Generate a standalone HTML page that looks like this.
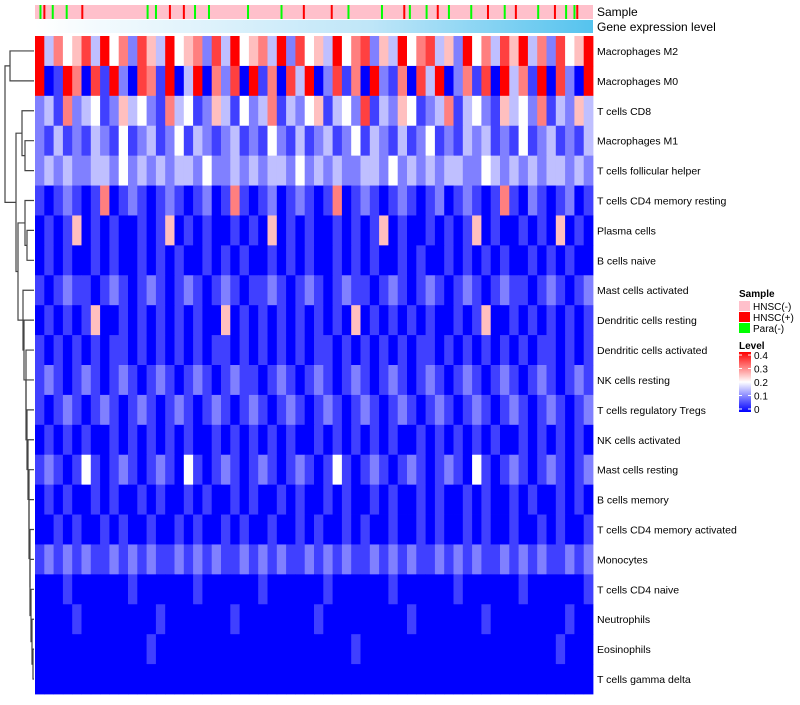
<!DOCTYPE html>
<html><head><meta charset="utf-8"><style>
body{margin:0;background:#fff;font-family:"Liberation Sans",sans-serif}
svg text{font-family:"Liberation Sans",sans-serif}
</style></head><body>
<svg id="c" width="800" height="700"></svg>
<script>
const rowNames=["Macrophages M2","Macrophages M0","T cells CD8","Macrophages M1","T cells follicular helper","T cells CD4 memory resting","Plasma cells","B cells naive","Mast cells activated","Dendritic cells resting","Dendritic cells activated","NK cells resting","T cells regulatory  Tregs","NK cells activated","Mast cells resting","B cells memory","T cells CD4 memory activated","Monocytes","T cells CD4 naive","Neutrophils","Eosinophils","T cells gamma delta"];
// digit d => value d*0.05 (0..0.4)
const rowValues=[
"836457384627538456273845638274538467253846735284637583627458",
"801860718207618038062708160738027160821607380261708361807208",
"231623412534216341253142361324513427132541236134215342613253",
"213121321412312413212312142131231241321312412132312141231213",
"232322332423232332422323233242323223324232323322432323233232",
"101210160121012101201610120121016012101210120121016102101201",
"010150101001015010100101050101001010150100101015010010105010",
"010100101001010100101010010101001010100101001010101001010100",
"101211012101210121012101121012101211012101210121012110121012",
"010101500101010101005010101010101050101010100101500101010101",
"101010101101010101011010101010110101010101101010101010110101",
"121012101210121012101211012101210121012101210121012101210121",
"101210121012101210121012101210121012101210121012101210121012",
"010101001010101010010101010100101010101001010101010010101010",
"121014101210121041012101210121014101210121012104101210121012",
"010100101001010010100101001010010100101001010010100101001010",
"001010010100100101001010010010100101001001010010100100101001",
"121212112121211212121121212112121211212121121212112121211212",
"000100000010000001000000100000010000001000000100000010000001",
"000010000000010000000100000000100000000010000000100000000100",
"000000000000100000000000000000000010000000000000000000001000",
"000000000000000000000000000000000000000000000000000000000000"];
const sampleRed=[0.015,0.083,0.24,0.265,0.48,0.53,0.66,0.72,0.81,0.86,0.93,0.97];
const sampleGreen=[0.008,0.03,0.055,0.2,0.215,0.285,0.31,0.38,0.44,0.56,0.62,0.67,0.7,0.74,0.78,0.84,0.9,0.95,0.965];
const levelTicks=[0,0.1,0.2,0.3,0.4];
const svg=document.getElementById('c');const NS="http://www.w3.org/2000/svg";
function el(t,a,p){const e=document.createElementNS(NS,t);for(const k in a)e.setAttribute(k,a[k]);(p||svg).appendChild(e);return e;}
const X0=35,X1=593,Y0=36,RH=(694-36)/rowNames.length;
function col(v){v=Math.max(0,Math.min(0.4,v));let r,g,b;if(v<0.2){const t=v/0.2;r=g=Math.round(255*t);b=255;}else{const t=(v-0.2)/0.2;r=255;g=b=Math.round(255*(1-t));}return `rgb(${r},${g},${b})`;}
const xs=v=>X0+v*(X1-X0);
// annotation bars
let s=el('rect',{x:X0,y:5,width:X1-X0,height:14,fill:'#ffc0cb'});

sampleRed.forEach(f=>{const r=el('rect',{x:xs(f),y:5,width:2,height:14,fill:'#f00'});});
sampleGreen.forEach(f=>{const r=el('rect',{x:xs(f),y:5,width:2,height:14,fill:'#0f0'});});
const defs=el('defs',{});
const lg=el('linearGradient',{id:'ge',x1:0,x2:1,y1:0,y2:0},defs);el('stop',{offset:0,'stop-color':'#fff'},lg);el('stop',{offset:0.6,'stop-color':'#bfe6f8'},lg);el('stop',{offset:1,'stop-color':'#55c3ee'},lg);
const lv=el('linearGradient',{id:'lv',x1:0,x2:0,y1:1,y2:0},defs);el('stop',{offset:0,'stop-color':'#00f'},lv);el('stop',{offset:0.5,'stop-color':'#fff'},lv);el('stop',{offset:1,'stop-color':'#f00'},lv);
let g=el('rect',{x:X0,y:20,width:X1-X0,height:13,fill:'url(#ge)'});

// heatmap
rowValues.forEach((str,i)=>{const n=str.length,w=(X1-X0)/n;
 for(let j=0;j<n;j++){const r=el('rect',{x:X0+j*w,y:Y0+i*RH,width:w+0.4,height:RH+0.4,fill:col(+str[j]*0.05)});
 }
 const t=el('text',{x:597,y:Y0+i*RH+RH/2+4,'font-size':10.5,fill:'#000'});t.textContent=rowNames[i];
 });
let t1=el('text',{x:597,y:16,'font-size':12});t1.textContent='Sample';
let t2=el('text',{x:597,y:31,'font-size':12});t2.textContent='Gene expression level';
// dendrogram
const tree={h:5,c:[{h:10,c:[0,1]},{h:16,c:[{h:22,c:[2,{h:25,c:[3,4]}]},{h:18,c:[{h:25,c:[5,{h:27,c:[6,7]}]},{h:23,c:[8,{h:24,c:[9,{h:26,c:[10,{h:26,c:[11,{h:27,c:[12,{h:28,c:[13,{h:29,c:[14,{h:29,c:[15,{h:30,c:[16,{h:30,c:[17,{h:31,c:[18,{h:32,c:[19,{h:33,c:[20,21]}]}]}]}]}]}]}]}]}]}]}]}]}]}]}]};
function dr(n){if(typeof n==='number')return{x:34,y:Y0+n*RH+RH/2};const a=dr(n.c[0]),b=dr(n.c[1]);
 const p=el('path',{d:`M${a.x},${a.y}H${n.h}V${b.y}H${b.x}`,fill:'none',stroke:'#444','stroke-width':1.2});
 
 return{x:n.h,y:(a.y+b.y)/2};}
dr(tree);
// legend
let lt=el('text',{x:739,y:297,'font-size':10,'font-weight':'bold'});lt.textContent='Sample';
[['HNSC(-)','#ffc0cb'],['HNSC(+)','#f00'],['Para(-)','#0f0']].forEach((d,i)=>{
 const r=el('rect',{x:739,y:301+i*11,width:11,height:10,fill:d[1]});
 const t=el('text',{x:753,y:310+i*11,'font-size':10});t.textContent=d[0];});
let lt2=el('text',{x:739,y:349,'font-size':10,'font-weight':'bold'});lt2.textContent='Level';
let cb=el('rect',{x:739,y:352,width:12,height:60,fill:'url(#lv)'});
levelTicks.forEach(v=>{const y=352+3+(0.4-v)/0.4*54;
 el('line',{x1:739,x2:742,y1:y,y2:y,stroke:'#fff'});el('line',{x1:748,x2:751,y1:y,y2:y,stroke:'#fff'});
 const t=el('text',{x:754,y:y+4,'font-size':10});t.textContent=String(v);});
</script>
</body></html>
